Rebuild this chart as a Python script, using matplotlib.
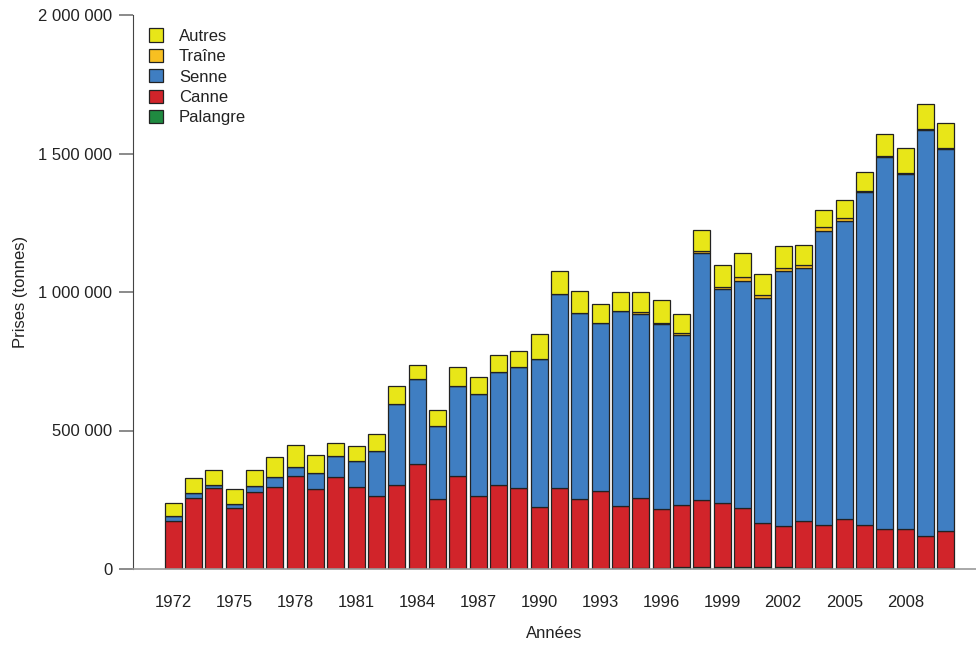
import matplotlib
matplotlib.use('Agg')
import matplotlib.pyplot as plt
import numpy as np

years = np.arange(1972, 2011)
# catches in tonnes
palangre = [1000, 1000, 1000, 1000, 1000, 1000, 1000, 1000, 1000, 1000,
            1000, 1000, 1000, 1000, 1000, 1000, 1000, 1000, 1000, 1000,
            1000, 1000, 2000, 2000, 5000, 6000, 7000, 6000, 6000, 7000,
            6000, 5000, 5000, 3000, 2000, 2000, 2000, 2000, 2000]
canne = [172000, 254000, 290000, 218000, 277000, 296000, 334000, 288000, 332000, 294000,
         261000, 301000, 378000, 251000, 336000, 263000, 302000, 290000, 224000, 293000,
         252000, 281000, 227000, 255000, 212000, 225000, 242000, 233000, 215000, 158000,
         149000, 169000, 154000, 176000, 156000, 141000, 141000, 118000, 135000]
senne = [19000, 19000, 11000, 15000, 22000, 34000, 32000, 58000, 75000, 95000,
         165000, 294000, 306000, 264000, 323000, 368000, 409000, 438000, 532000, 698000,
         670000, 606000, 704000, 662000, 667000, 615000, 891000, 772000, 819000, 813000,
         921000, 912000, 1060000, 1077000, 1202000, 1344000, 1283000, 1465000, 1379000]
traine = [0, 0, 0, 0, 0, 0, 0, 0, 0, 0,
          0, 0, 0, 0, 0, 0, 0, 0, 0, 0,
          0, 0, 0, 10000, 5000, 6000, 8000, 6000, 13000, 10000,
          9000, 10000, 17000, 10000, 5000, 5000, 5000, 3000, 5000]
autres = [45000, 54000, 54000, 54000, 56000, 72000, 82000, 66000, 48000, 53000,
          59000, 64000, 51000, 58000, 69000, 61000, 59000, 59000, 92000, 85000,
          82000, 68000, 68000, 70000, 81000, 70000, 77000, 79000, 89000, 76000,
          80000, 75000, 60000, 66000, 68000, 77000, 90000, 90000, 88000]

series = [('Palangre', palangre, '#1f8a40'),
          ('Canne', canne, '#d1242a'),
          ('Senne', senne, '#3f7ec2'),
          ('Traîne', traine, '#f8c021'),
          ('Autres', autres, '#e8e618')]

plt.rcParams['font.family'] = ['Liberation Sans', 'DejaVu Sans']
fig = plt.figure(figsize=(9.76, 6.46), dpi=100)
ax = fig.add_axes([133 / 976, 1 - 569 / 646, 843 / 976, (569 - 15) / 646])

bottom = np.zeros(len(years))
handles = []
for name, vals, col in series:
    vals = np.array(vals, dtype=float)
    b = ax.bar(years, vals, bottom=bottom, width=0.84, color=col,
               edgecolor='#222222', linewidth=0.9, label=name)
    bottom += vals
    handles.append(b)

ax.set_xlim(1970.03, 2011.48)
ax.set_ylim(0, 2000000)
yt = [0, 500000, 1000000, 1500000, 2000000]
ax.set_yticks(yt)
ax.set_yticklabels(['{:,}'.format(v).replace(',', ' ') for v in yt])
ax.set_xticks(np.arange(1972, 2010, 3))

for s in ['top', 'right']:
    ax.spines[s].set_visible(False)
ax.spines['left'].set_color('#444444')
ax.spines['bottom'].set_color('#999999')
ax.spines['bottom'].set_linewidth(1.2)

ax.tick_params(axis='y', length=10, color='#777777', width=1.2, pad=5,
               labelsize=12, labelcolor='#222222')
ax.tick_params(axis='x', length=0, pad=19, labelsize=12, labelcolor='#222222')

ax.set_xlabel('Années', fontsize=12, color='#222222', labelpad=11)
ax.set_ylabel('Prises (tonnes)', fontsize=12, color='#222222', labelpad=7)

leg = ax.legend(handles[::-1], [s[0] for s in series][::-1],
                loc='upper left', bbox_to_anchor=(0.005, 0.997), frameon=False,
                fontsize=12, handlelength=0.85, handleheight=0.85,
                handletextpad=0.95, labelspacing=0.3, borderaxespad=0.3)
for t in leg.get_texts():
    t.set_color('#222222')

fig.savefig('out.png', dpi=100)
